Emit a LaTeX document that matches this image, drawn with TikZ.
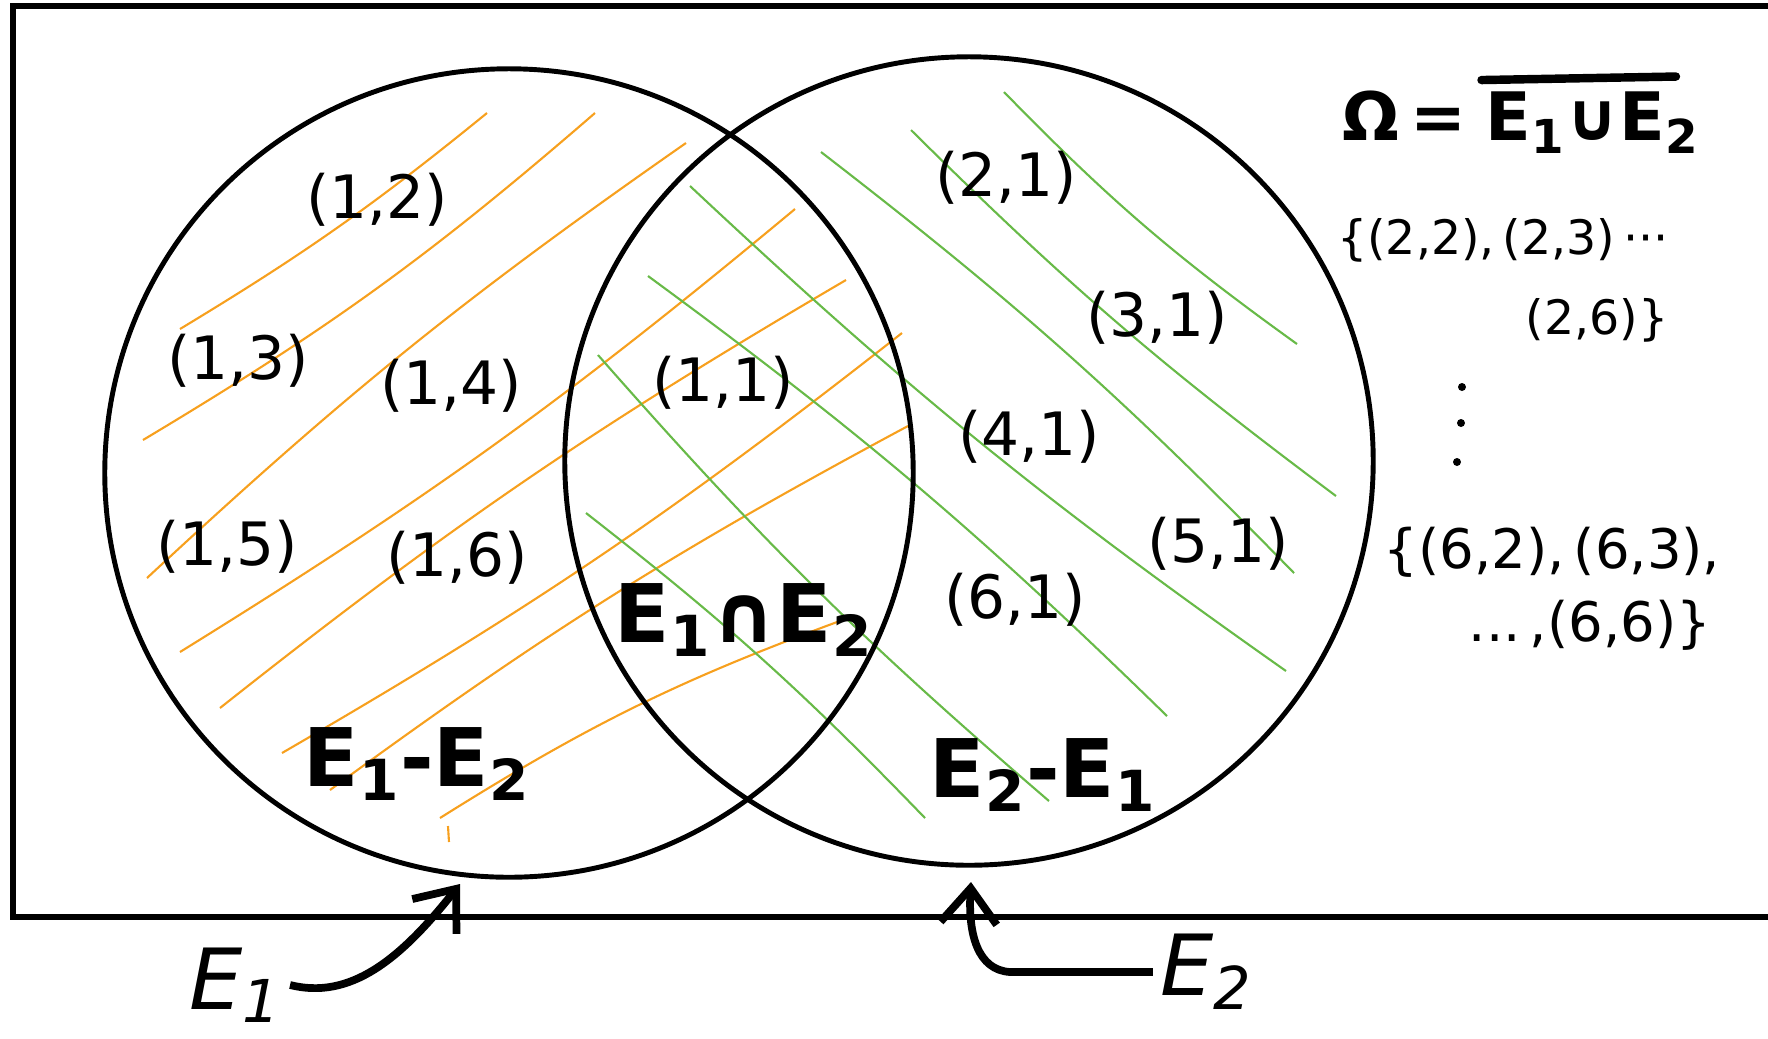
\documentclass[tikz,border=0pt]{standalone}
\usepackage{fontspec}
\setmainfont{DejaVu Sans}
\usetikzlibrary{arrows.meta}
\definecolor{hatchorange}{RGB}{247,160,30}
\definecolor{hatchgreen}{RGB}{104,186,72}
\tikzset{
  venn/.style={draw, circle, line width=1.4pt, inner sep=0pt, minimum size=8.08cm},
  hatchO/.style={draw=hatchorange, line width=0.6pt},
  hatchG/.style={draw=hatchgreen, line width=0.6pt},
  tuple/.style={font=\fontsize{17}{20}\selectfont},
  listing/.style={font=\fontsize{13.5}{16}\selectfont},
  biglisting/.style={font=\fontsize{15.5}{18}\selectfont},
  region/.style={font=\bfseries\fontsize{23}{27}\selectfont},
  omegafont/.style={font=\bfseries\fontsize{19}{23}\selectfont, inner sep=1pt},
  setname/.style={font=\itshape\fontsize{24}{28}\selectfont, inner sep=2pt},
  pointer/.style={line width=2.2pt, -{Straight Barb[length=10pt,width=16pt]}},
}

\begin{document}
\begin{tikzpicture}[x=0.01cm,y=-0.01cm]
  \useasboundingbox (0,0) rectangle (1768,1038);
  % sample space frame, open on the right
  \draw[line width=1.6pt] (1768,6) -- (13,6) -- (13,917) -- (1768,917);

  % orange hatching in E1
  \draw[hatchO] (180,329) to[bend right=4] (487,113);
  \draw[hatchO] (143,440) to[bend right=5] (595,113);
  \draw[hatchO] (147,578) to[bend left=4] (686,143);
  \draw[hatchO] (180,652) to[bend right=4] (795,209);
  \draw[hatchO] (220,708) to[bend left=4] (846,280);
  \draw[hatchO] (282,753) to[bend right=4] (902,333);
  \draw[hatchO] (330,790) to[bend left=4] (908,426);
  \draw[hatchO] (440,818) to[bend left=6] (848,618);
  \draw[hatchO] (448,826) -- (449,842);

  % green hatching in E2
  \draw[hatchG] (1004,92) to[bend right=5] (1297,344);
  \draw[hatchG] (911,130) to[bend right=4] (1336,496);
  \draw[hatchG] (821,152) to[bend left=4] (1294,573);
  \draw[hatchG] (690,186) to[bend right=4] (1286,671);
  \draw[hatchG] (648,276) to[bend left=4] (1167,716);
  \draw[hatchG] (598,355) to[bend right=4] (1049,801);
  \draw[hatchG] (586,513) to[bend left=4] (925,818);

  % the two events
  \node[venn] (e1) at (509,473) {};
  \node[venn] (e2) at (969,461) {};

  % outcomes
  \node[tuple] (t12) at (377,200) {(1,2)};
  \node[tuple] (t13) at (238,361) {(1,3)};
  \node[tuple] (t14) at (451,386) {(1,4)};
  \node[tuple] (t15) at (227,547) {(1,5)};
  \node[tuple] (t16) at (457,558) {(1,6)};
  \node[tuple] (t11) at (723,383) {(1,1)};
  \node[tuple] (t21) at (1006,178) {(2,1)};
  \node[tuple] (t31) at (1157,318) {(3,1)};
  \node[tuple] (t41) at (1029,437) {(4,1)};
  \node[tuple] (t51) at (1218,544) {(5,1)};
  \node[tuple] (t61) at (1015,600) {(6,1)};

  % region names
  \node[region] (diff12) at (417,764) {E\textsubscript{1}-E\textsubscript{2}};
  \node[region] (inter) at (744,620) {E\textsubscript{1}∩E\textsubscript{2}};
  \node[region] (diff21) at (1043,775) {E\textsubscript{2}-E\textsubscript{1}};

  % complement of the union
  \node[omegafont, anchor=base west] (omega) at (1338,140) {Ω\,=\,};
  \node[omegafont, anchor=base west] (union) at (omega.base east) {E\textsubscript{1}∪E\textsubscript{2}};
  \draw[line width=2.4pt, line cap=round] ([xshift=0pt,yshift=2pt]union.north west) -- ([xshift=-8pt,yshift=3pt]union.north east);
  \node[listing] (row2a) at (1503,240) {\{(2,2),\,(2,3)\,···};
  \node[listing] (row2b) at (1597,320) {(2,6)\}};
  \fill (1462,387) circle (4);
  \fill (1461,423) circle (4);
  \fill (1457,462) circle (4);
  \node[biglisting] (row6a) at (1552,552) {\{(6,2),\,(6,3),};
  \node[biglisting] (row6b) at (1590,625) {...\,,(6,6)\}};

  % labels with pointers
  \node[setname] (lE1) at (236,985) {E\textsubscript{1}};
  \node[setname] (lE2) at (1207,972) {E\textsubscript{2}};
  \coordinate (tip1) at (460,884);
  \coordinate (tip2) at (971,882);
  \draw[pointer] (lE1.east) .. controls (350,1000) and (400,960) .. (tip1);
  \draw[pointer] (lE2.west) -- (1010,972) .. controls (978,970) and (968,935) .. (tip2);
\end{tikzpicture}
\end{document}
